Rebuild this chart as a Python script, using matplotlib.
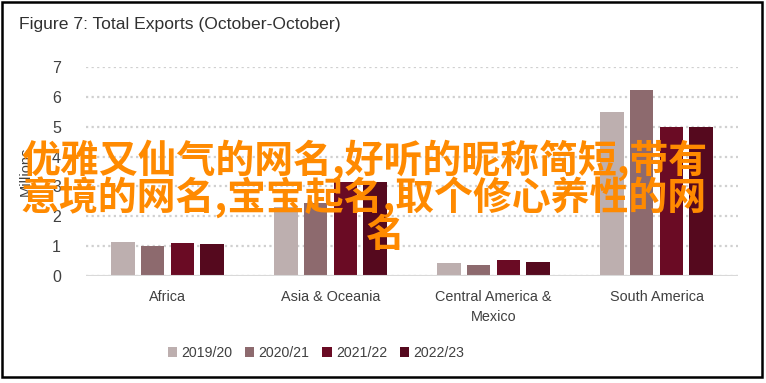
import numpy as np
import matplotlib.pyplot as plt
from matplotlib.patches import Rectangle

# -------------------------------------------------
# data
# -------------------------------------------------
regions = ['Africa', 'Asia & Oceania', 'Central America &\nMexico', 'South America']
seasons = ['2019/20', '2020/21', '2021/22', '2022/23']
exp_1920 = [1.15, 2.30, 0.43, 5.48]
exp_2021 = [1.02, 2.45, 0.37, 6.22]
exp_2122 = [1.10, 3.14, 0.55, 5.00]
exp_2223 = [1.07, 3.14, 0.46, 5.00]
yticks = [0, 1, 2, 3, 4, 5, 6, 7]

overlay_lines = ['优雅又仙气的网名,好听的昵称简短,带有',
                 '意境的网名,宝宝起名,取个修心养性的网',
                 '名']

colors = ['#bdafaf', '#8d6a6e', '#6a0b24', '#55091e']
txtfont = ['Liberation Sans', 'DejaVu Sans']

# -------------------------------------------------
# figure
# -------------------------------------------------
fig = plt.figure(figsize=(7.66, 3.83), dpi=100)
ax = fig.add_axes([86 / 766, 1 - 276 / 383, 652 / 766, 209 / 383])

x = np.arange(len(regions))
width = 0.142
step = 0.182
series = [exp_1920, exp_2021, exp_2122, exp_2223]
for i, (vals, lab) in enumerate(zip(series, seasons)):
    ax.bar(x + (i - 1.5) * step, vals, width, color=colors[i], label=lab,
           zorder=3)

ax.set_xlim(-0.5, len(regions) - 0.5)
ax.set_ylim(0, 7)
ax.set_yticks(yticks)
ax.set_yticklabels([str(v) for v in yticks], family=txtfont, fontsize=11.5,
                   color='#404040')
ax.set_xticks(x)
ax.set_xticklabels(regions, family=txtfont, fontsize=10.4, color='#404040',
                   linespacing=1.6)
ax.tick_params(axis='y', length=0, pad=18)
ax.tick_params(axis='x', length=0, pad=10)
for s in ax.spines.values():
    s.set_visible(False)
ax.grid(axis='y', color='#d0d0d0', linestyle=(0, (1, 1.5)), linewidth=1.6,
        zorder=0)
ax.axhline(0, color='#d9d9d9', linewidth=1.5, zorder=4)
ax.set_ylabel('Millions', family=txtfont, fontsize=10.5, color='#404040',
              labelpad=14)

fig.text(19 / 766, 1 - 25 / 383, 'Figure 7: Total Exports (October-October)',
         family=txtfont, fontsize=12.6, color='#303030', va='center',
         ha='left')

fig.legend(loc='center', bbox_to_anchor=(316 / 766, 1 - 353 / 383), ncol=4,
           frameon=False, prop={'family': txtfont, 'size': 10.2},
           handlelength=0.65, handleheight=0.65, handletextpad=0.3,
           columnspacing=0.9, labelcolor='#404040')

# border round the whole chart
fig.patches.append(Rectangle((2 / 766, 1 - 377 / 383), 760 / 766, 375 / 383,
                             transform=fig.transFigure, fill=False,
                             edgecolor='black', linewidth=1.8))

# orange overlay text
ov_y = [160, 198, 236]
ov_x = [364, 364, 385]
for line, yy, xx in zip(overlay_lines, ov_y, ov_x):
    fig.text(xx / 766, 1 - yy / 383, line, fontsize=28, color='#ff8a00',
             family=['Noto Sans CJK SC', 'DejaVu Sans'], weight='bold',
             ha='center', va='center', zorder=10)

fig.savefig('out.png', dpi=100)
